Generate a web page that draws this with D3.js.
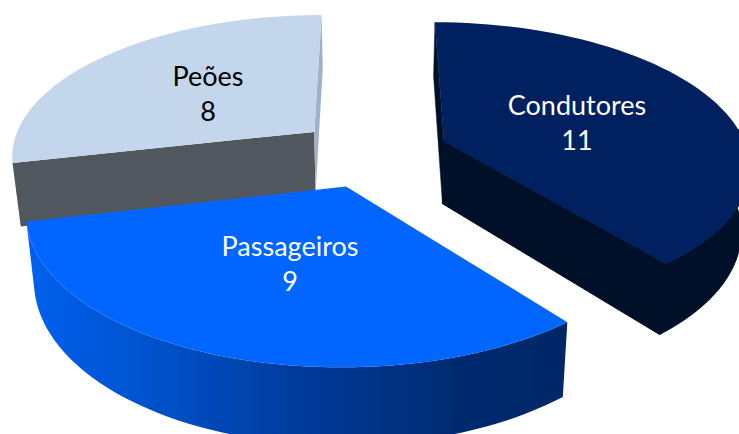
<!DOCTYPE html>
<style>
  html, body { margin: 0; background: #fff; }
  svg { display: block; }
  text { font-family: Lato, sans-serif; font-size: 27px; text-anchor: middle; }
</style>
<body>
</body>
<script src="https://cdn.jsdelivr.net/npm/d3@7"></script>
<script>
  const categories = ['Condutores', 'Passageiros', 'Peões'];
  const values = [11, 9, 8];

  const topColors = ['#002060', '#0066ff', '#c3d6ec'];
  const startColors = ['#001028', 'none', '#50575f'];
  const endColors = ['#001028', 'none', '#9fb0c9'];
  const textColors = ['#fff', '#fff', '#000'];
  const labelX = [577, 290, 208];
  const labelY = [115, 256, 86];
  // small per slice nudges, the picture is not a perfect perspective
  const nudgeX = [2, -3, -4];
  const nudgeY = [0, 1, 0];

  const w = 739, h = 434;
  // plane of the pie seen in perspective, fitted by hand on the picture
  const cx = 374, cy = 152.5, R = 304, ry = 141, p = 0.156;
  const explode = 0.24, depth = 63, shrink = 0.023;

  const svg = d3.select('body').append('svg')
    .attr('width', w)
    .attr('height', h);

  const grad = svg.append('defs').append('linearGradient')
    .attr('id', 'rim')
    .attr('gradientUnits', 'userSpaceOnUse')
    .attr('x1', 30).attr('x2', 562).attr('y1', 0).attr('y2', 0);
  grad.selectAll('stop')
    .data([[0, '#0060ee'], [0.2, '#0054d0'], [0.5, '#003c9c'], [0.8, '#002a70'], [1, '#002868']])
    .join('stop')
    .attr('offset', d => d[0])
    .attr('stop-color', d => d[1]);

  const rimColors = ['#001028', 'url(#rim)', 'none'];

  const project = (X, Y, low) => {
    const s = 1 / (1 - p * Y);
    const x = cx + R * X * s;
    const y = cy + ry * Y * s;
    if (!low) return [x, y];
    return [cx + (x - cx) * (1 - shrink), y + depth * s];
  };

  const pie = d3.pie().sort(null)(values);
  const line = d3.line();

  const slices = pie.map((d, i) => {
    const mid = (d.startAngle + d.endAngle) / 2;
    const ox = explode * Math.sin(mid), oy = -explode * Math.cos(mid);
    const at = (a, r, low) => {
      const q = project(ox + r * Math.sin(a), oy - r * Math.cos(a), low);
      return [q[0] + nudgeX[i], q[1] + nudgeY[i]];
    };
    const angles = d3.range(61).map(k => d.startAngle + (d.endAngle - d.startAngle) * k / 60);
    return {i, d, at, angles};
  });

  const quad = (s, a) => line([s.at(a, 0), s.at(a, 1), s.at(a, 1, true), s.at(a, 0, true)]) + 'Z';

  // only the part of the rim turned to the viewer, else the stroke fringes the back edge
  const rimPath = s => {
    const front = s.angles.filter(a => Math.cos(a) < 0.1);
    return line(front.map(a => s.at(a, 1)).concat(front.slice().reverse().map(a => s.at(a, 1, true)))) + 'Z';
  };

  // back to front: Peões, Condutores, Passageiros
  const g = svg.selectAll('g.slice')
    .data([slices[2], slices[0], slices[1]])
    .join('g')
    .attr('class', 'slice');

  g.append('path')
    .attr('d', rimPath)
    .attr('fill', s => rimColors[s.i])
    .attr('stroke', s => s.i === 0 ? rimColors[0] : 'none');

  g.append('path')
    .attr('d', s => quad(s, s.d.startAngle))
    .attr('fill', s => startColors[s.i])
    .attr('stroke', s => s.i === 0 ? startColors[0] : 'none')
    .attr('stroke-width', 0.5);

  g.append('path')
    .attr('d', s => quad(s, s.d.endAngle))
    .attr('fill', s => endColors[s.i])
    .attr('stroke', s => s.i === 0 ? endColors[0] : 'none');

  g.append('path')
    .attr('d', s => line([s.at(0, 0)].concat(s.angles.map(a => s.at(a, 1)))) + 'Z')
    .attr('fill', s => topColors[s.i]);

  const labels = svg.selectAll('g.label')
    .data(categories)
    .join('g')
    .attr('class', 'label')
    .attr('fill', (d, i) => textColors[i]);
  labels.append('text')
    .attr('x', (d, i) => labelX[i])
    .attr('y', (d, i) => labelY[i])
    .text(d => d);
  labels.append('text')
    .attr('x', (d, i) => labelX[i])
    .attr('y', (d, i) => labelY[i] + 35)
    .text((d, i) => values[i]);
</script>
